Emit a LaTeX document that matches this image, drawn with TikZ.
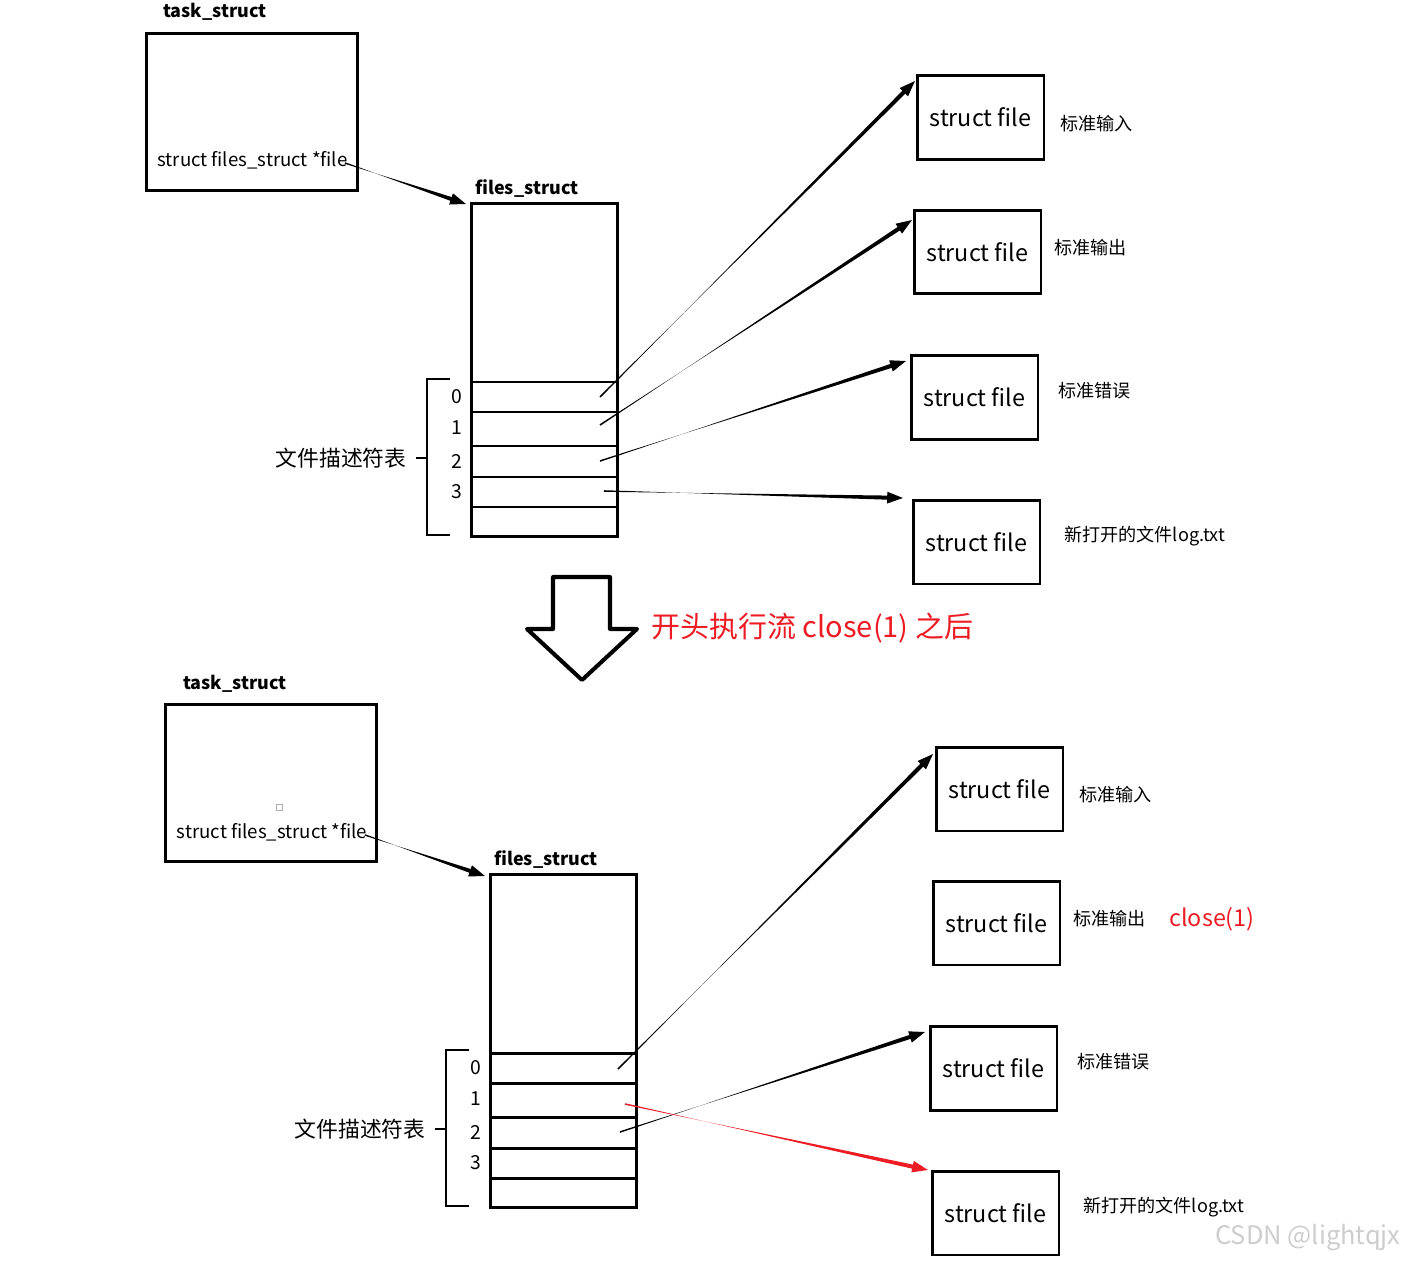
\documentclass[tikz,border=0pt]{standalone}
\usepackage{fontspec}
\setmainfont{Noto Sans CJK SC}
\usetikzlibrary{arrows.meta,calc}

\definecolor{closered}{RGB}{237,28,36}
\definecolor{markgray}{RGB}{205,205,205}

\tikzset{
  box/.style={draw, line width=1.7pt, inner sep=0pt},
  tbox/.style={box, minimum width=4.24cm, minimum height=3.16cm},
  fbox/.style={box, minimum width=2.54cm, minimum height=1.68cm, font=\fontsize{13.3}{16}\selectfont},
  title/.style={font=\bfseries\fontsize{10.2}{12}\selectfont},
  member/.style={font=\fontsize{10.6}{13}\selectfont},
  note/.style={anchor=west, inner sep=0pt, font=\fontsize{10.3}{12}\selectfont},
  num/.style={font=\fontsize{11}{13}\selectfont},
  fdlabel/.style={font=\fontsize{12.4}{14}\selectfont},
  brace/.style={line width=1.2pt},
}

% pointer that gets thicker towards its head
\newcommand\pointer[3][black]{%
  \path ($(#3)!6pt!(#2)$) coordinate (tipbase);
  \fill[#1] ($(#2)!0.45pt!90:(#3)$) -- ($(tipbase)!1.2pt!-90:(#3)$)
    -- ($(tipbase)!1.2pt!90:(#3)$) -- ($(#2)!0.45pt!-90:(#3)$) -- cycle;
  \draw[#1, line width=0.8pt, -{Triangle[length=9pt,width=6.5pt]}] (tipbase) -- (#3);
}

\begin{document}
\begin{tikzpicture}[x=0.02cm, y=-0.02cm]
  \useasboundingbox (0,0) rectangle (1404,1264);

  % before close(1)
  \node[title] (tname) at (215,12) {task\_struct};
  \node[tbox] (task) at (252,112) {};
  \node[member] (tfile) at (252.5,160) {struct files\_struct *file};
  \coordinate (tp) at (345,163);

  \node[title] (fname) at (527,189) {files\_struct};
  \node[box, minimum width=2.94cm, minimum height=6.68cm] (files) at (544.5,370) {};
  \foreach \r in {382,412,446,477,507}
    \draw[line width=1.7pt] (471,\r) -- (618,\r);
  \foreach \n/\y in {0/397,1/428,2/461,3/492}
    \node[num] (n\n) at (457,\y) {\n};
  \draw[brace] (450,379) -- (427,379) -- (427,535) -- (450,535);
  \draw[brace] (416,458) -- (427,458);
  \node[fdlabel] (fdt) at (341,458) {文件描述符表};

  \node[fbox] (f0) at (980.5,117.5) {struct file};
  \node[fbox] (f1) at (977.5,252) {struct file};
  \node[fbox] (f2) at (974.5,397.5) {struct file};
  \node[fbox] (f3) at (976.5,542) {struct file};
  \node[note] (l0) at (1060,124) {标准输入};
  \node[note] (l1) at (1054,248) {标准输出};
  \node[note] (l2) at (1058,391) {标准错误};
  \node[note] (l3) at (1064,536) {新打开的文件log.txt};

  \coordinate (s0) at (600,397);
  \coordinate (s1) at (600,425);
  \coordinate (s2) at (600,461);
  \coordinate (s3) at (604,491);
  \coordinate (e0) at (915,81);
  \coordinate (e1) at (912,220);
  \coordinate (e2) at (906,361);
  \coordinate (e3) at (903,498);
  \coordinate (ef) at (466,204);
  \pointer{tp}{ef}
  \pointer{s0}{e0}
  \pointer{s1}{e1}
  \pointer{s2}{e2}
  \pointer{s3}{e3}

  % big arrow
  \draw[line width=2.3pt, line join=round] (553,577) -- (610,577) -- (610,629) -- (637,629)
    -- (582,680) -- (527,629) -- (553,629) -- cycle;
  \node[anchor=west, inner sep=0pt, text=closered, font=\fontsize{16.5}{20}\selectfont] (step) at (651,628)
    {开头执行流 close(1) 之后};

  % after close(1)
  \begin{scope}[shift={(19,671)}]
    \node[title] (btname) at (216,13) {task\_struct};
    \node[tbox] (btask) at (252,112) {};
    \draw[markgray!60!gray, line width=0.5pt] (257,133) rectangle (263,139);
    \node[member] (btfile) at (253,161) {struct files\_struct *file};
    \coordinate (btp) at (346,164);

    \node[title] (bfname) at (527,189) {files\_struct};
    \node[box, minimum width=2.94cm, minimum height=6.68cm] (bfiles) at (544.5,370) {};
    \foreach \r in {382,412,446,477,507}
      \draw[line width=1.7pt] (471,\r) -- (618,\r);
    \foreach \n/\y in {0/397,1/428,2/461,3/492}
      \node[num] (bn\n) at (457,\y) {\n};
    \draw[brace] (450,379) -- (427,379) -- (427,535) -- (450,535);
    \draw[brace] (416,458) -- (427,458);
    \node[fdlabel] (bfdt) at (341,458) {文件描述符表};

    \node[fbox] (bf0) at (980.5,118) {struct file};
    \node[fbox] (bf1) at (977.5,252) {struct file};
    \node[fbox] (bf2) at (974.5,397.5) {struct file};
    \node[fbox] (bf3) at (976.5,542) {struct file};
    \node[note] (bl0) at (1060,124) {标准输入};
    \node[note] (bl1) at (1054,248) {标准输出};
    \node[note, text=closered, font=\fontsize{13.3}{16}\selectfont] (bclose) at (1150,248) {close(1)};
    \node[note] (bl2) at (1058,391) {标准错误};
    \node[note] (bl3) at (1064,536) {新打开的文件log.txt};

    \coordinate (bs0) at (599,398);
    \coordinate (bs1) at (606,433);
    \coordinate (bs2) at (601,461);
    \coordinate (be0) at (914,83);
    \coordinate (be2) at (906,361);
    \coordinate (be3) at (909,499);
    \coordinate (bef) at (466,205);
    \pointer{btp}{bef}
    \pointer{bs0}{be0}
    \pointer{bs2}{be2}
    \pointer[closered]{bs1}{be3}
  \end{scope}

  \node[text=markgray, font=\fontsize{14.5}{17}\selectfont] (mark) at (1308,1238) {CSDN @lightqjx};
\end{tikzpicture}
\end{document}
